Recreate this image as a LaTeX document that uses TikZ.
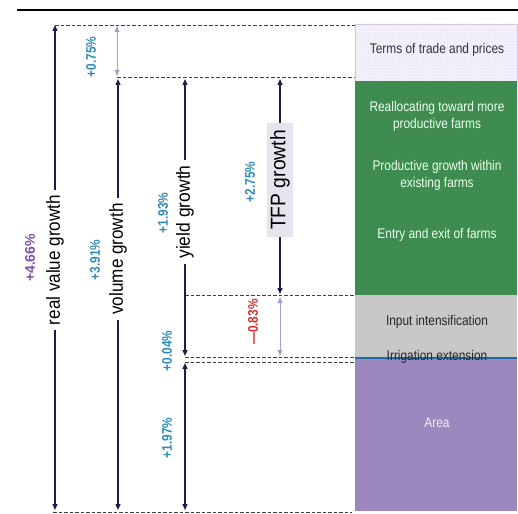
\documentclass[tikz,border=0pt]{standalone}
\usepackage{fontspec}
\setmainfont{Liberation Sans}
\usetikzlibrary{arrows.meta,patterns}
\definecolor{navy}{HTML}{221A4A}
\definecolor{lav}{HTML}{A99CCF}
\definecolor{teal}{HTML}{2E8BB5}
\definecolor{pctred}{HTML}{D42F2F}
\definecolor{pctpurple}{HTML}{7B4FA8}
\definecolor{greenbar}{HTML}{3E8C50}
\definecolor{graybar}{HTML}{C8C8C8}
\definecolor{purplebar}{HTML}{9D87BF}
\definecolor{termsfill}{HTML}{F4F1FB}
\definecolor{termsdot}{HTML}{CFC8E3}
\definecolor{bluebar}{HTML}{1E6BA8}
\definecolor{tfpbox}{HTML}{E6E4EF}
\newcommand{\narrow}[2]{\scalebox{#1}[1]{#2}}
\tikzset{
  arr/.style={draw=navy, line width=1.3pt, -{Triangle[length=6pt,width=5pt]}},
  lavarr/.style={draw=lav, line width=1pt, {Triangle[length=6pt,width=5pt]}-{Triangle[length=6pt,width=5pt]}},
  dashline/.style={draw=black!75, line width=0.8pt, dash pattern=on 3.5pt off 2pt},
  biglabel/.style={rotate=90, inner xsep=5pt, inner ysep=0pt, font=\fontsize{19}{22}\selectfont},
  pct/.style={rotate=90, inner sep=0pt, text=teal, font=\bfseries\fontsize{14}{16}\selectfont},
  rtext/.style={align=center, inner sep=0pt, font=\fontsize{14}{17}\selectfont},
}
\begin{document}
\begin{tikzpicture}[x=1pt,y=-1pt]
\useasboundingbox (0,0) rectangle (518,513);
% top rule
\coordinate (ruleL) at (17,10);
\coordinate (ruleR) at (518,10);
\draw[line width=2pt] (ruleL) -- (ruleR);

% right column bars
\fill[termsfill] (355,24) rectangle (517,81);
\fill[pattern=dots, pattern color=termsdot] (355,24) rectangle (517,81);
\draw[termsdot, line width=0.6pt] (355,24) rectangle (517,81);
\fill[greenbar] (355,81) rectangle (517,295);
\fill[graybar] (355,295) rectangle (517,357);
\fill[purplebar] (355,359) rectangle (517,511);
\coordinate (blueL) at (355,358);
\coordinate (blueR) at (517,358);
\draw[bluebar, line width=2pt] (blueL) -- (blueR);

% right column texts
\node[rtext, text=black!80] (terms) at (437,50) {\narrow{0.85}{Terms of trade and prices}};
\node[rtext, text=green!8!white] (realloc) at (437,116) {\narrow{0.85}{Reallocating toward more}\\\narrow{0.85}{productive farms}};
\node[rtext, text=green!8!white] (within) at (437,175) {\narrow{0.85}{Productive growth within}\\\narrow{0.85}{existing farms}};
\node[rtext, text=green!8!white] (entry) at (437,235) {\narrow{0.85}{Entry and exit of farms}};
\node[rtext, text=black!85] (input) at (437,322) {\narrow{0.85}{Input intensification}};
\node[rtext, text=black!85] (irrig) at (437,357) {\narrow{0.85}{Irrigation extension}};
\node[rtext, text=purple!8!white] (area) at (437,423) {\narrow{0.85}{Area}};

% dashed guide lines
\coordinate (d1a) at (55,25);  \coordinate (d1b) at (355,25);
\coordinate (d2a) at (117,77); \coordinate (d2b) at (355,77);
\coordinate (d3a) at (185,295); \coordinate (d3b) at (355,295);
\coordinate (d4a) at (185,357); \coordinate (d4b) at (355,357);
\coordinate (d5a) at (185,362); \coordinate (d5b) at (355,362);
\coordinate (d6a) at (53,512); \coordinate (d6b) at (352,512);
\draw[dashline] (d1a) -- (d1b);
\draw[dashline] (d2a) -- (d2b);
\draw[dashline] (d3a) -- (d3b);
\draw[dashline] (d4a) -- (d4b);
\draw[dashline] (d5a) -- (d5b);
\draw[dashline] (d6a) -- (d6b);

% real value growth
\coordinate (rvTop) at (55,25);
\coordinate (rvBot) at (55,510);
\node[biglabel] (rvL) at (55,260) {\narrow{0.9}{real value growth}};
\draw[arr] (rvL) -- (rvTop);
\draw[arr] (rvL) -- (rvBot);
\node[pct, text=pctpurple] (p466) at (30,258) {+4.66\%};

% volume growth
\coordinate (vTop) at (118,79);
\coordinate (vBot) at (118,510);
\node[biglabel] (vL) at (118,259) {\narrow{0.9}{volume growth}};
\draw[arr] (vL) -- (vTop);
\draw[arr] (vL) -- (vBot);
\node[pct] (p391) at (95,260) {\narrow{0.85}{+3.91\%}};

% terms of trade arrow
\coordinate (tTop) at (117,26);
\coordinate (tBot) at (117,76);
\draw[lavarr] (tTop) -- (tBot);
\node[pct] (p075) at (91,57) {\narrow{0.85}{+0.75\%}};

% yield growth
\coordinate (yTop) at (185,79);
\coordinate (yBot) at (185,356);
\node[biglabel] (yL) at (185,212) {\narrow{0.92}{yield growth}};
\draw[arr] (yL) -- (yTop);
\draw[arr] (yL) -- (yBot);
\node[pct] (p193) at (163,213) {\narrow{0.85}{+1.93\%}};
\node[pct] (p004) at (167,351) {\narrow{0.85}{+0.04\%}};

% area arrow
\coordinate (aTop) at (185,363);
\coordinate (aBot) at (185,510);
\coordinate (aMid) at (185,436);
\draw[arr] (aMid) -- (aTop);
\draw[arr] (aMid) -- (aBot);
\node[pct] (p197) at (167,438) {\narrow{0.85}{+1.97\%}};

% TFP growth
\coordinate (fTop) at (280,79);
\coordinate (fBot) at (280,294);
\node[rotate=90, fill=tfpbox, inner xsep=7pt, inner ysep=0pt, minimum height=26pt,
      font=\fontsize{21}{24}\selectfont] (fL) at (280,180) {\narrow{0.92}{TFP growth}};
\draw[arr] (fL) -- (fTop);
\draw[arr] (fL) -- (fBot);
\node[pct] (p275) at (250,182) {\narrow{0.85}{+2.75\%}};

% input intensification arrow
\coordinate (iTop) at (280,297);
\coordinate (iBot) at (280,356);
\draw[lavarr] (iTop) -- (iBot);
\node[pct, text=pctred] (p083) at (253,322) {\narrow{0.85}{—0.83\%}};
\end{tikzpicture}
\end{document}
